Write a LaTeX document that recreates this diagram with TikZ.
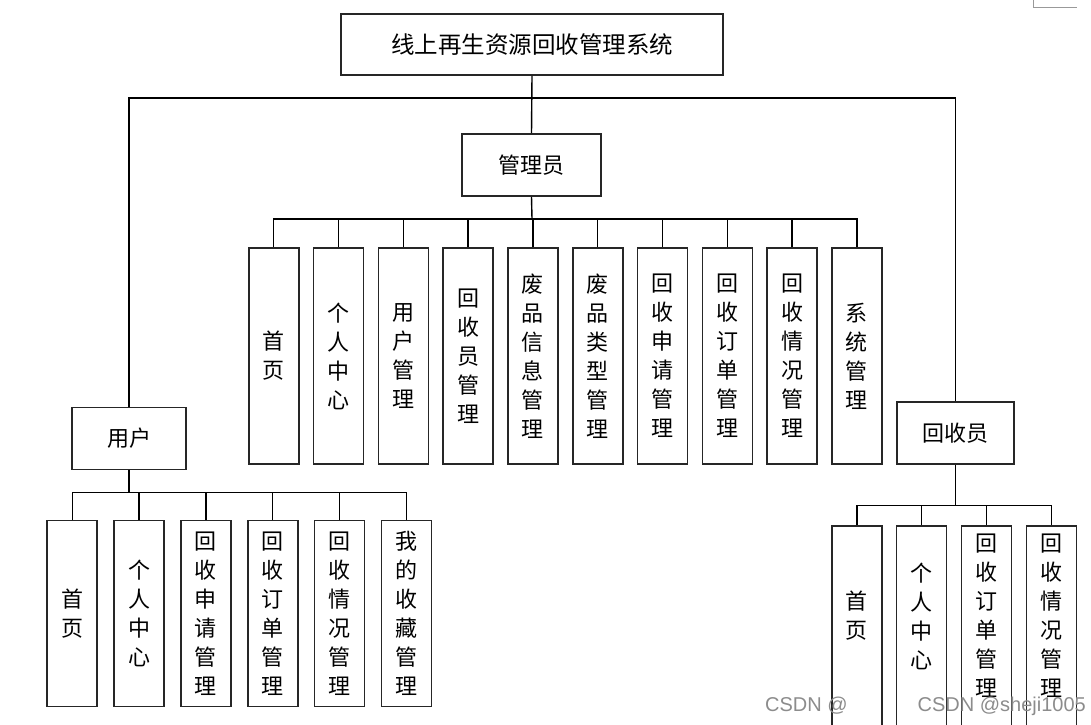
\documentclass[tikz,border=0pt]{standalone}
\usepackage{fontspec}
\newfontfamily\cjk{Noto Sans CJK SC}
\newfontfamily\wmfont{Liberation Sans}
\begin{document}
\begin{tikzpicture}[x=1pt,y=-1pt,
  box/.style={draw=black!85, line width=1.6pt, fill=white, inner sep=0pt, align=center,
              font=\cjk\fontsize{22}{29}\selectfont},
  tallbox/.style={box, minimum width=50pt},
  vtext/.style={inner sep=0pt, align=center, font=\cjk\fontsize{22}{29}\selectfont},
  conn/.style={draw=black, line width=1.4pt},
  wm/.style={inner sep=0pt, text=black!45, font=\wmfont\fontsize{20}{20}\selectfont}]
\useasboundingbox (0,0) rectangle (1091,724);

% corner mark
\draw[black!40, line width=1pt] (1033,0) -- (1033,7) -- (1077,7);

% top level
\node[box, minimum width=382pt, minimum height=61pt, font=\cjk\fontsize{23.5}{28}\selectfont] (title) at (532,44.5) {线上再生资源回收管理系统};
\node[box, minimum width=139pt, minimum height=62pt] (admin) at (531.5,165) {管理员};
\node[box, minimum width=114pt, minimum height=62pt] (user) at (129,438.3) {用户};
\node[box, minimum width=117pt, minimum height=62pt] (rec) at (955.7,433.2) {回收员};

\coordinate (bus0) at (532,98);
\coordinate (abus) at (532,219);
\coordinate (ubus) at (129,492.3);
\coordinate (rbus) at (955.7,505.7);

% admin children
\foreach \i/\t in {0/{首\\页},1/{个\\人\\中\\心},2/{用\\户\\管\\理},3/{回\\收\\员\\管\\理},
  4/{废\\品\\信\\息\\管\\理},5/{废\\品\\类\\型\\管\\理},6/{回\\收\\申\\请\\管\\理},
  7/{回\\收\\订\\单\\管\\理},8/{回\\收\\情\\况\\管\\理},9/{系\\统\\管\\理}}{
  \node[tallbox, minimum height=216pt] (a\i) at (273.7+64.8*\i,356) {\t};
}
% user children
\foreach \i/\t in {0/{首\\页},1/{个\\人\\中\\心},2/{回\\收\\申\\请\\管\\理},
  3/{回\\收\\订\\单\\管\\理},4/{回\\收\\情\\况\\管\\理},5/{我\\的\\收\\藏\\管\\理}}{
  \node[tallbox, minimum height=186pt] (u\i) at (72.2+66.86*\i,613.3) {\t};
}
% recycler children (boxes run past the bottom edge)
\foreach \i/\t in {0/{首\\页},1/{个\\人\\中\\心},2/{回\\收\\订\\单\\管\\理},3/{回\\收\\情\\况\\管\\理}}{
  \node[tallbox, minimum height=214pt] (r\i) at (856.8+64.83*\i,633) {};
  \node[vtext] (r\i t) at ([yshift=17pt]r\i.center) {\t};
}

% connectors
\draw[conn] (title.south) -- (admin.north);
\draw[conn] (user.north) |- (bus0) -| (rec.north);
\draw[conn] (admin.south) -- (abus);
\foreach \i in {0,...,9}{ \draw[conn] (a\i.north) |- (abus); }
\draw[conn] (user.south) -- (ubus);
\foreach \i in {0,...,5}{ \draw[conn] (u\i.north) |- (ubus); }
\draw[conn] (rec.south) -- (rbus);
\foreach \i in {0,...,3}{ \draw[conn] (r\i.north) |- (rbus); }

% watermark
\node[wm, anchor=west] (wm1) at (765,706) {CSDN @};
\node[wm, anchor=east] (wm2) at (1086,706) {CSDN @sheji1005};
\end{tikzpicture}
\end{document}
